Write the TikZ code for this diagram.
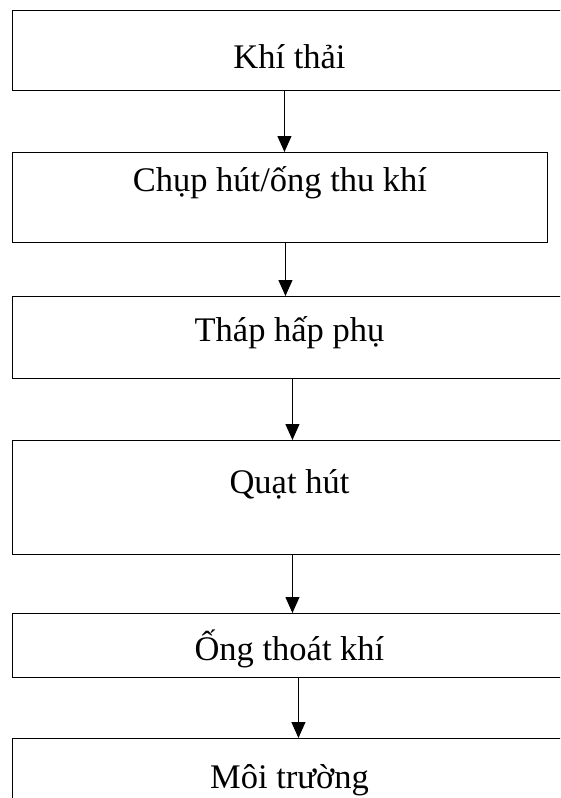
\documentclass[tikz,border=0pt]{standalone}
\usepackage{fontspec}
\setmainfont{Liberation Serif}
\usetikzlibrary{arrows.meta}

\begin{document}
\begin{tikzpicture}[x=1pt, y=-1pt,
    main/.style = {draw, line width=0.9pt, anchor=north west, inner sep=0pt,
                   minimum width=554pt, font=\fontsize{34.5}{40}\selectfont},
    arr/.style = {-{Triangle[length=16pt,width=14pt]}, line width=1.1pt}]
    \useasboundingbox (0,0) rectangle (560,798);
    \clip (0,0) rectangle (560,798);

    \node[main, text height=58pt, text depth=22pt] (1) at (12,10) {Khí thải};
    \node[main, minimum width=535pt, text height=39pt, text depth=51pt] (2) at (12,152) {Chụp hút/ống thu khí};
    \node[main, text height=45pt, text depth=37pt] (3) at (12,296) {Tháp hấp phụ};
    \node[main, text height=53pt, text depth=61pt] (4) at (12,440) {Quạt hút};
    \node[main, text height=47pt, text depth=17pt] (5) at (12,613) {Ống thoát khí};
    \node[main, text height=50pt, text depth=42pt] (6) at (12,738) {Môi trường};

    \draw[arr] ([xshift=-5pt]1.south) -- ([xshift=-5pt]1.south |- 2.north);
    \draw[arr] ([xshift=5.5pt]2.south) -- ([xshift=5.5pt]2.south |- 3.north);
    \draw[arr] ([xshift=3pt]3.south) -- ([xshift=3pt]3.south |- 4.north);
    \draw[arr] ([xshift=3pt]4.south) -- ([xshift=3pt]4.south |- 5.north);
    \draw[arr] ([xshift=9pt]5.south) -- ([xshift=9pt]5.south |- 6.north);
\end{tikzpicture}
\end{document}
